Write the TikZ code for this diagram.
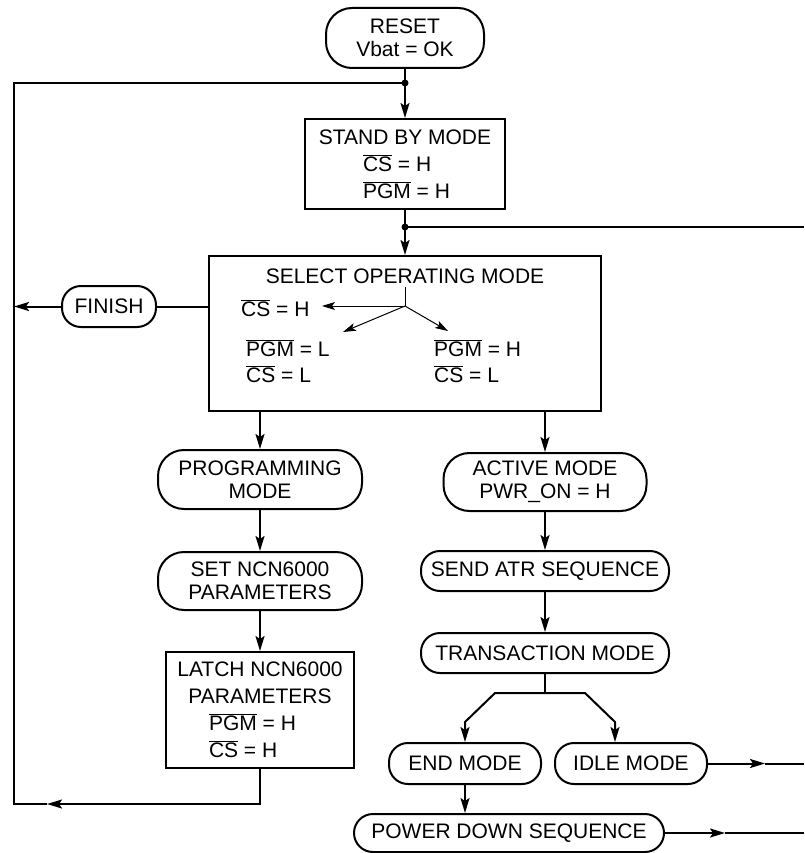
\documentclass[tikz,border=0pt]{standalone}
\usepackage{fontspec}
\setmainfont{Liberation Sans}
\usetikzlibrary{arrows.meta,positioning}

\newcommand{\ovl}[1]{$\overline{\mbox{#1}}$}

\begin{document}
\begin{tikzpicture}[x=1pt, y=-1pt,
    flow/.style = {line width=2pt,-{Stealth[length=15pt,width=9pt,inset=3pt]}},
    thinflow/.style = {line width=1pt,-{Stealth[length=13pt,width=8pt,inset=3pt]}},
    wire/.style = {line width=2pt}]
	\tikzset{term/.style={draw,line width=2pt,rounded corners=19pt,inner sep=0pt,align=center,font=\fontsize{21}{23}\selectfont},
	         tall/.style={rounded corners=26pt},
	         box/.style={draw,line width=2pt,inner sep=0pt,align=center,font=\fontsize{21}{27}\selectfont},
	         txt/.style={inner sep=0pt,font=\fontsize{21}{26}\selectfont}}

	\useasboundingbox (0,0) rectangle (804,853);

	% Start
	\node[term, tall, minimum width=158pt, minimum height=60pt] (reset) at (405,38) {RESET\\Vbat = OK};

	\node[box, minimum width=200pt, minimum height=90pt] (standby) at (405,164) {STAND BY MODE\\\makebox[84pt][l]{\ovl{CS} = H}\\\makebox[84pt][l]{\ovl{PGM} = H}};

	\coordinate (dot1) at (405,83);
	\coordinate (dot2) at (405,227);
	\coordinate (rtop) at (804,227);

	% Select
	\node[box, minimum width=392pt, minimum height=155pt] (select) at (405,333.5) {};
	\node[txt, anchor=base] (seltitle) at (405,283) {SELECT OPERATING MODE};

	\node[txt, anchor=base west] (csh) at (241,316) {\ovl{CS} = H};
	\node[txt, anchor=base west] (pgml) at (246,356) {\ovl{PGM} = L};
	\node[txt, anchor=base west] (csl) at (246,382) {\ovl{CS} = L};
	\node[txt, anchor=base west] (pgmh) at (434,356) {\ovl{PGM} = H};
	\node[txt, anchor=base west] (cslb) at (434,382) {\ovl{CS} = L};

	\coordinate (selstem) at (405,287);
	\coordinate (selfork) at (405,306);
	\coordinate (tipcsh) at (322,306);
	\coordinate (tippgml) at (343,332);
	\coordinate (tippgmh) at (448,331);

	\node[term, minimum width=94pt, minimum height=41pt] (finish) at (109,306.5) {FINISH};

	% Programming branch
	\node[term, tall, minimum width=204pt, minimum height=59pt] (prog) at (260,479.5) {PROGRAMMING\\MODE};

	\node[term, tall, below of=prog, node distance=101.5pt, minimum width=204pt, minimum height=58pt] (setpar) {SET NCN6000\\PARAMETERS};

	\node[box, below of=setpar, node distance=129pt, minimum width=188pt, minimum height=116pt] (latch) {LATCH NCN6000\\PARAMETERS\\\makebox[102pt][l]{\ovl{PGM} = H}\\\makebox[102pt][l]{\ovl{CS} = H}};

	% Active branch
	\node[term, tall, minimum width=203pt, minimum height=58pt] (active) at (545,482) {ACTIVE MODE\\PWR\_ON = H};

	\node[term, below of=active, node distance=89pt, minimum width=248pt, minimum height=40pt] (sendatr) {SEND ATR SEQUENCE};

	\node[term, below of=sendatr, node distance=82pt, minimum width=248pt, minimum height=40pt] (trans) {TRANSACTION MODE};

	\node[term, minimum width=152pt, minimum height=41pt] (endm) at (465,763.5) {END MODE};

	\node[term, minimum width=152pt, minimum height=41pt] (idle) at (631,763.5) {IDLE MODE};

	\node[term, minimum width=310pt, minimum height=38pt] (power) at (509,833) {POWER DOWN SEQUENCE};

	\coordinate (tfork) at (545,693);
	\coordinate (tforkl) at (495,693);
	\coordinate (tforkr) at (585,693);
	\coordinate (tkneel) at (465,722);
	\coordinate (tkneer) at (615,722);
	\coordinate (itip) at (765,763.5);
	\coordinate (iend) at (804,763.5);
	\coordinate (ptip) at (725,833);
	\coordinate (pend) at (804,833);

	% Loop
	\coordinate (ltop) at (14,83);
	\coordinate (lbot) at (14,804);
	\coordinate (ltip) at (47,804);

	% Arrows
	\draw [wire] (reset.south) -- (dot1);
	\draw [flow] (dot1) -- (standby.north);
	\draw [wire] (standby.south) -- (dot2);
	\draw [flow] (dot2) -- (select.north);
	\draw [wire] (dot2) -- (rtop);
	\fill (dot1) circle (3.5pt);
	\fill (dot2) circle (3.5pt);

	\draw [line width=1pt] (selstem) -- (selfork);
	\draw [thinflow] (selfork) -- (tipcsh);
	\draw [thinflow] (selfork) -- (tippgml);
	\draw [thinflow] (selfork) -- (tippgmh);

	\draw [wire] (select.west |- finish.east) -- (finish.east);
	\draw [flow] (finish.west) -- (finish.west -| ltop);
	\draw [flow] (latch.south) |- (ltip);
	\draw [wire] (ltip) -- (lbot) -- (ltop) -- (dot1);

	\draw [flow] (select.south -| prog.north) -- (prog.north);
	\draw [flow] (prog) -- (setpar);
	\draw [flow] (setpar) -- (latch);

	\draw [flow] (select.south -| active.north) -- (active.north);
	\draw [flow] (active) -- (sendatr);
	\draw [flow] (sendatr) -- (trans);
	\draw [wire] (trans.south) -- (tfork);
	\draw [flow] (tfork) -- (tforkl) -- (tkneel) -- (tkneel |- endm.north);
	\draw [flow] (tfork) -- (tforkr) -- (tkneer) -- (tkneer |- idle.north);
	\draw [flow] (endm.south) -- (endm.south |- power.north);
	\draw [flow] (idle.east) -- (itip);
	\draw [wire] (itip) -- (iend);
	\draw [flow] (power.east) -- (ptip);
	\draw [wire] (ptip) -- (pend);

\end{tikzpicture}
\end{document}
